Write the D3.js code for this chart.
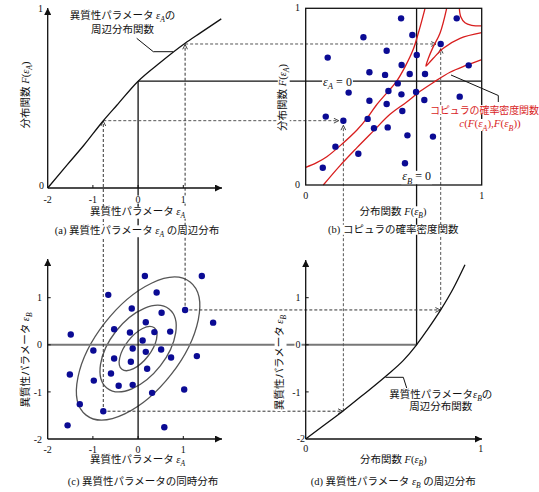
<!DOCTYPE html>
<html>
<head>
<meta charset="utf-8">
<script src="https://d3js.org/d3.v7.min.js"></script>
<style>
body { margin: 0; background: #fff; }
svg text { font-family: "Liberation Serif", "Noto Sans CJK JP", serif; }
</style>
</head>
<body>
<svg width="539" height="492"></svg>
<script>
// (a) marginal distribution of eps_A
var curveA_eps = [-2, -1.57, -1.2, -0.77, -0.47, 0, 0.49, 1.04, 1.37, 1.84];
var curveA_F   = [0, 0.13, 0.24, 0.378, 0.465, 0.6, 0.705, 0.813, 0.87, 0.95];

// (d) marginal distribution of eps_B
var curveB_F   = [0, 0.1, 0.214, 0.327, 0.46, 0.555, 0.63, 0.688, 0.767, 0.839, 0.905];
var curveB_eps = [-2, -1.72, -1.40, -1.06, -0.65, -0.33, 0, 0.3, 0.74, 1.2, 1.70];

// (c) joint sample (eps_A, eps_B)
var sampleA = [0.15, 1.41, -0.66, 0.41, 1.04, -0.14, 0.52, -1.49, -0.53, 0.17, -0.18, 0.36, 0.71, 1.66,
               0.10, -0.99, -0.12, 0.17, 0.51, -0.53, -0.16, 0.73, 1.30, 0.20, -1.51, -0.60, -0.98, -0.43,
               -0.12, 0.31, 1.02, -1.29, -0.77, -1.56, 0.58];
var sampleB = [1.46, 1.46, 1.06, 1.11, 0.74, 0.77, 0.68, 0.22, 0.33, 0.48, 0.26, 0.27, 0.28, 0.47,
               0.09, -0.12, -0.08, -0.15, -0.10, -0.29, -0.36, -0.27, -0.24, -0.51, -0.63, -0.61, -0.76, -0.87,
               -0.85, -1.02, -0.95, -1.26, -1.41, -1.71, -1.75];

// (b) copula sample (F(eps_B), F(eps_A))
var copulaFB = [0.542, 0.858, 0.328, 0.606, 0.767, 0.125, 0.460, 0.631, 0.545, 0.362, 0.451, 0.591, 0.678, 0.926,
                0.523, 0.244, 0.470, 0.544, 0.627, 0.362, 0.460, 0.674, 0.875, 0.549, 0.114, 0.214, 0.352, 0.388,
                0.466, 0.578, 0.723, 0.169, 0.299, 0.564, 0.097];
var copulaFA = [0.943, 0.943, 0.836, 0.849, 0.798, 0.721, 0.760, 0.736, 0.679, 0.638, 0.623, 0.628, 0.628, 0.677,
                0.575, 0.523, 0.532, 0.513, 0.526, 0.477, 0.458, 0.481, 0.500, 0.419, 0.387, 0.364, 0.374, 0.321,
                0.326, 0.281, 0.274, 0.217, 0.177, 0.123, 0.098];

// the two samples traced through all four panels
var tracedA  = [-0.77, 1.04];
var tracedB  = [-1.41, 0.74];
var tracedFA = [0.364, 0.798];
var tracedFB = [0.214, 0.767];

// copula density contours (F(eps_B), F(eps_A))
var contour1FB = [0, 0.06, 0.12, 0.21, 0.29, 0.35, 0.40, 0.46, 0.515, 0.565, 0.61, 0.64, 0.665, 0.678];
var contour1FA = [0.10, 0.125, 0.16, 0.235, 0.31, 0.38, 0.45, 0.52, 0.585, 0.67, 0.765, 0.86, 0.95, 1.0];
var contour2FB = [0.10, 0.195, 0.29, 0.384, 0.479, 0.574, 0.65, 0.725, 0.82, 0.915, 1.0];
var contour2FA = [0, 0.11, 0.21, 0.305, 0.40, 0.47, 0.53, 0.58, 0.638, 0.678, 0.71];
var contour3FB = [0.801, 0.763, 0.725, 0.697, 0.683, 0.70, 0.725, 0.782, 0.877, 1.0];
var contour3FA = [1.0, 0.859, 0.783, 0.717, 0.673, 0.69, 0.717, 0.774, 0.830, 0.862];
var contour4FB = [0.873, 0.881, 0.905, 0.943, 1.0];
var contour4FA = [1.0, 0.952, 0.918, 0.904, 0.90];

// joint density ellipses in (c)
var ellipseCenter = [0, -0.08];
var ellipseMajor = [0.57, 1.09, 1.83];
var ellipseMinor = [0.27, 0.61, 0.91];
var ellipseTilt = 52;

var ticksEps = [-2, -1, 0, 1];

var svg = d3.select("svg");

var xA = d3.scaleLinear().domain([-2, 1]).range([47.7, 183.3]);
var yFa = d3.scaleLinear().domain([0, 1]).range([188, 10]);
var xF = d3.scaleLinear().domain([0, 1]).range([305.7, 481.7]);
var yFb = d3.scaleLinear().domain([0, 1]).range([185, 8.3]);
var yB = d3.scaleLinear().domain([-2, 1]).range([439, 297.7]);

var defs = svg.append("defs");
defs.append("marker").attr("id", "axisArrow")
    .attr("viewBox", "0 0 10 10").attr("refX", 10).attr("refY", 5)
    .attr("markerWidth", 9).attr("markerHeight", 7)
    .attr("markerUnits", "userSpaceOnUse").attr("orient", "auto")
    .append("path").attr("d", "M0,0L10,5L0,10z").attr("fill", "#111");
defs.append("marker").attr("id", "openArrow")
    .attr("viewBox", "0 0 10 10").attr("refX", 9).attr("refY", 5)
    .attr("markerWidth", 6).attr("markerHeight", 6)
    .attr("markerUnits", "userSpaceOnUse").attr("orient", "auto")
    .append("path").attr("d", "M1,1L9,5L1,9").attr("fill", "none")
    .attr("stroke", "#222").attr("stroke-width", 1.4);

var gBack = svg.append("g");
var gLines = svg.append("g");
var gLabels = svg.append("g");
var gDots = svg.append("g");

function seg(g, x1, y1, x2, y2, color, w, dash, marker) {
  var l = g.append("line")
      .attr("x1", x1).attr("y1", y1).attr("x2", x2).attr("y2", y2)
      .attr("stroke", color).attr("stroke-width", w);
  if (dash) l.attr("stroke-dasharray", dash);
  if (marker) l.attr("marker-end", "url(#" + marker + ")");
  return l;
}

function richText(g, x, y, parts, size, opt) {
  opt = opt || {};
  var t = g.append("text")
      .attr("x", x).attr("y", y + size * 0.36)
      .attr("font-size", size)
      .attr("text-anchor", opt.anchor || "middle")
      .attr("fill", opt.color || "#111");
  if (opt.spacing) t.attr("letter-spacing", opt.spacing);
  var shifted = 0;
  parts.forEach(function(p) {
    var s = t.append("tspan").text(p[0]);
    var dy = 0;
    if (p[1] == "s") {
      s.attr("font-style", "italic").attr("font-size", size * 0.72);
      dy = size * 0.28 - shifted;
      shifted = size * 0.28;
    } else {
      dy = -shifted;
      shifted = 0;
      if (p[1] == "i") s.attr("font-style", "italic");
    }
    if (dy) s.attr("dy", dy);
  });
  if (opt.bg) {
    var b = t.node().getBBox();
    g.insert("rect", function() { return t.node(); })
        .attr("x", b.x - 1).attr("y", b.y + 1.5)
        .attr("width", b.width + 2).attr("height", Math.max(b.height - 3, 1))
        .attr("fill", "#fff");
  }
  return t;
}

function rotText(x, y, parts, size, opt) {
  var g = gLabels.append("g").attr("transform", "translate(" + x + "," + y + ") rotate(-90)");
  return richText(g, 0, 0, parts, size, opt);
}

// ---- ellipses (c)
var pxPerUnit = ((xA(1) - xA(0)) + (yB(0) - yB(1))) / 2;
ellipseMajor.forEach(function(m, i) {
  gBack.append("ellipse")
      .attr("transform", "translate(" + xA(ellipseCenter[0]) + "," + yB(ellipseCenter[1]) + ") rotate(" + (-ellipseTilt) + ")")
      .attr("rx", m * pxPerUnit).attr("ry", ellipseMinor[i] * pxPerUnit)
      .attr("fill", "none").attr("stroke", "#555").attr("stroke-width", 1.3);
});

// ---- solid guide lines through eps = 0
var Fa0 = curveA_F[curveA_eps.indexOf(0)];
var Fb0 = curveB_F[curveB_eps.indexOf(0)];
seg(gBack, xA(-2), yB(0), xF(Fb0), yB(0), "#777", 2);
seg(gBack, xA(0), yFa(Fa0), xF(1), yFa(Fa0), "#111", 1.3);
seg(gBack, xA(0), yFa(Fa0), xA(0), yB(-2), "#111", 1.3);
seg(gBack, xF(Fb0), yB(0), xF(Fb0), yFb(1), "#111", 1.3);

// ---- dashed connectors of the traced samples
var r = 3.2;
tracedA.forEach(function(a, i) {
  var xa = xA(a), yb = yFb(tracedFA[i]), xb = xF(tracedFB[i]), yc = yB(tracedB[i]);
  seg(gBack, xa, yc - r - 1, xa, yb + 0.5, "#333", 1, "3,2", "openArrow");
  seg(gBack, xa, yb, xb - r - 1.5, yb, "#555", 1, "3,2", "openArrow");
  seg(gBack, xa + r + 1, yc, xb - 0.5, yc, "#333", 1, "3,2", "openArrow");
  seg(gBack, xb, yc, xb, yb + r + 1.5, "#555", 1, "3,2", "openArrow");
});

// ---- marginal curves
var lineA = d3.line().x(function(d) { return xA(d[0]); }).y(function(d) { return yFa(d[1]); })
    .curve(d3.curveMonotoneX);
gLines.append("path").attr("d", lineA(d3.zip(curveA_eps, curveA_F)))
    .attr("fill", "none").attr("stroke", "#111").attr("stroke-width", 1.3);

var lineB = d3.line().x(function(d) { return xF(d[0]); }).y(function(d) { return yB(d[1]); })
    .curve(d3.curveMonotoneX);
gLines.append("path").attr("d", lineB(d3.zip(curveB_F, curveB_eps)))
    .attr("fill", "none").attr("stroke", "#111").attr("stroke-width", 1.3);

// ---- copula contours (b)
var lineC = d3.line().x(function(d) { return xF(d[0]); }).y(function(d) { return yFb(d[1]); })
    .curve(d3.curveCatmullRom);
[[contour1FB, contour1FA], [contour2FB, contour2FA], [contour3FB, contour3FA], [contour4FB, contour4FA]]
  .forEach(function(c) {
    gLines.append("path").attr("d", lineC(d3.zip(c[0], c[1])))
        .attr("fill", "none").attr("stroke", "#d81e1e").attr("stroke-width", 1.3);
  });

// (b) frame
gLines.append("rect").attr("x", xF(0)).attr("y", yFb(1))
    .attr("width", xF(1) - xF(0)).attr("height", yFb(0) - yFb(1))
    .attr("fill", "none").attr("stroke", "#111").attr("stroke-width", 1.3);

// ---- axes (a), (c), (d)
seg(gLines, xA(-2), yFa(0), 222, yFa(0), "#111", 1.3, null, "axisArrow");
seg(gLines, xA(-2), yFa(0), xA(-2), 8, "#111", 1.3, null, "axisArrow");
seg(gLines, xA(-2), yB(-2), 222, yB(-2), "#111", 1.3, null, "axisArrow");
seg(gLines, xA(-2), yB(-2), xA(-2), 259, "#111", 1.3, null, "axisArrow");
seg(gLines, xF(0), yB(-2), 482, yB(-2), "#111", 1.3, null, "axisArrow");
seg(gLines, xF(0), yB(-2), xF(0), 260, "#111", 1.3, null, "axisArrow");

ticksEps.slice(1).forEach(function(t) {
  seg(gLines, xA(t), yFa(0), xA(t), yFa(0) - 3, "#111", 1);
  seg(gLines, xA(t), yB(-2), xA(t), yB(-2) - 3, "#111", 1);
  seg(gLines, xA(-2), yB(t), xA(-2) + 3, yB(t), "#111", 1);
  seg(gLines, xF(0), yB(t), xF(0) + 3, yB(t), "#111", 1);
});

// ---- tick labels
ticksEps.forEach(function(t) {
  var s = t < 0 ? "-" + Math.abs(t) : String(t);
  richText(gLabels, xA(t), 199.5, [[s, ""]], 10, { bg: t >= 0 });
  richText(gLabels, xA(t), 449.5, [[s, ""]], 10);
  richText(gLabels, 42, yB(t), [[s, ""]], 10, { anchor: "end" });
  richText(gLabels, t == -2 ? 305 : 300.5, t == -2 ? yB(t) - 1 : yB(t), [[s, ""]], 10, { anchor: "end", bg: t == 0 });
});
richText(gLabels, 44, 185, [["0", ""]], 10, { anchor: "end" });
richText(gLabels, 43, 8, [["1", ""]], 10, { anchor: "end" });
richText(gLabels, 300, 184, [["0", ""]], 10, { anchor: "end" });
richText(gLabels, 300, 7, [["1", ""]], 10, { anchor: "end" });
richText(gLabels, xF(0), 195, [["0", ""]], 10);
richText(gLabels, xF(1), 195, [["1", ""]], 10);
richText(gLabels, xF(0), 448, [["0", ""]], 10);
richText(gLabels, xF(1) - 1, 448, [["1", ""]], 10);

// ---- axis titles and captions
var jpEpsA = [["異質性パラメータ ", ""], ["ε", "i"], ["A", "s"]];
var jpEpsB = [["異質性パラメータ ", ""], ["ε", "i"], ["B", "s"]];
var FepsA = [["分布関数 ", ""], ["F", "i"], ["(", ""], ["ε", "i"], ["A", "s"], [")", ""]];
var FepsB = [["分布関数 ", ""], ["F", "i"], ["(", ""], ["ε", "i"], ["B", "s"], [")", ""]];

richText(gLabels, 137.5, 211.5, jpEpsA, 10.5, { bg: true });
richText(gLabels, 137, 230, [["(a) 異質性パラメータ ", ""], ["ε", "i"], ["A", "s"], [" の周辺分布", ""]], 10.5, { bg: true });
rotText(25, 95, FepsA, 10.5);

richText(gLabels, 393, 211, FepsB, 10.5, { bg: true });
richText(gLabels, 393.3, 229.5, [["(b) コピュラの確率密度関数", ""]], 10.5, { bg: true });
rotText(282.5, 97.5, FepsA, 10.5, { bg: true });

richText(gLabels, 137.5, 459, jpEpsA, 10.5);
richText(gLabels, 143, 481.7, [["(c) 異質性パラメータの同時分布", ""]], 10.5);
rotText(25, 360, jpEpsB, 10.5);

richText(gLabels, 393.3, 459.3, FepsB, 10.5);
richText(gLabels, 393.3, 481.7, [["(d) 異質性パラメータ ", ""], ["ε", "i"], ["B", "s"], [" の周辺分布", ""]], 10.5);
rotText(279.3, 362.5, jpEpsB, 10.5, { bg: true });

// eps = 0 labels inside (b)
richText(gLabels, 337.5, 81.5, [["ε", "i"], ["A", "s"], [" = 0", ""]], 12, { bg: true });
richText(gLabels, 416.7, 176, [["ε", "i"], ["B", "s"], [" = 0", ""]], 12, { bg: true });

// ---- annotations
function leader(pts) {
  gLabels.append("path").attr("d", d3.line()(pts))
      .attr("fill", "none").attr("stroke", "#111").attr("stroke-width", 1);
}
leader([[136.7, 38.3], [153.3, 51.7], [173, 51.7]]);
richText(gLabels, 122.5, 15, [["異質性パラメータ ", ""], ["ε", "i"], ["A", "s"], ["の", ""]], 10.5);
richText(gLabels, 122.5, 29.3, [["周辺分布関数", ""]], 10.5);

leader([[451, 75], [498.3, 95.5], [498.3, 102]]);
richText(gLabels, 430, 110, [["コピュラの確率密度関数", ""]], 10, { anchor: "start", color: "#d81e1e", bg: true, spacing: -0.1 });
richText(gLabels, 490, 123.5, [["c", "i"], ["(", ""], ["F", "i"], ["(", ""], ["ε", "i"], ["A", "s"], ["),", ""],
    ["F", "i"], ["(", ""], ["ε", "i"], ["B", "s"], ["))", ""]], 11, { color: "#d81e1e", bg: true });

leader([[385.5, 377.3], [403.3, 377.3], [406.7, 388]]);
richText(gLabels, 440.8, 394, [["異質性パラメータ", ""], ["ε", "i"], ["B", "s"], ["の", ""]], 10.5);
richText(gLabels, 440.8, 406, [["周辺分布関数", ""]], 10.5);

// ---- sample dots
gDots.selectAll("circle.c").data(d3.zip(sampleA, sampleB)).enter()
    .append("circle").attr("class", "c")
    .attr("cx", function(d) { return xA(d[0]); })
    .attr("cy", function(d) { return yB(d[1]); })
    .attr("r", r).attr("fill", "#0b0b94");
gDots.selectAll("circle.b").data(d3.zip(copulaFB, copulaFA)).enter()
    .append("circle").attr("class", "b")
    .attr("cx", function(d) { return xF(d[0]); })
    .attr("cy", function(d) { return yFb(d[1]); })
    .attr("r", r).attr("fill", "#0b0b94");
</script>
</body>
</html>
